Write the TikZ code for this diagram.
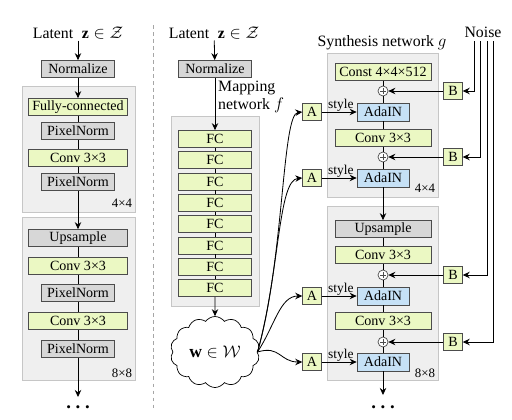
\documentclass[tikz,border=0pt]{standalone}
\usepackage{fontspec}
\setmainfont{Liberation Serif}
\usetikzlibrary{shapes.symbols,arrows.meta}

\definecolor{fcgreen}{HTML}{EBF8C3}
\definecolor{adablue}{HTML}{C6E1F6}
\definecolor{opgray}{HTML}{D7D7D7}
\definecolor{blockgray}{HTML}{EFEFEF}
\definecolor{blockline}{HTML}{C6C6C6}

\tikzset{
  every node/.style={font=\fontsize{12}{14}\selectfont},
  opbox/.style={draw=black!70, line width=0.6pt, inner sep=0pt, minimum height=0.51cm},
  normbox/.style={opbox, fill=opgray, minimum width=2.19cm},
  fcbox/.style={opbox, fill=fcgreen, minimum width=2.19cm},
  lwide/.style={minimum width=2.97cm},
  rwide/.style={minimum width=2.88cm},
  adabox/.style={opbox, fill=adablue, minimum width=1.56cm, minimum height=0.54cm},
  abbox/.style={opbox, fill=fcgreen, minimum width=0.56cm, minimum height=0.53cm},
  plusnode/.style={circle, draw=black!70, fill=white, line width=0.6pt, inner sep=0pt, minimum size=0.3cm,
    path picture={\draw[line width=0.5pt]
      ([xshift=-2.4pt]path picture bounding box.center) -- ([xshift=2.4pt]path picture bounding box.center)
      ([yshift=-2.4pt]path picture bounding box.center) -- ([yshift=2.4pt]path picture bounding box.center);}},
  block/.style={fill=blockgray, draw=blockline, line width=0.6pt},
  title/.style={font=\fontsize{13.5}{15}\selectfont, inner sep=1pt},
  sizelbl/.style={font=\fontsize{11}{12}\selectfont, inner sep=0pt},
  stylelbl/.style={font=\fontsize{11.5}{12}\selectfont, inner sep=0.5pt, above, pos=0.55},
  dotsnode/.style={font=\fontsize{16}{16}\bfseries, inner sep=0pt},
  conn/.style={line width=0.7pt},
}

\begin{document}
\begin{tikzpicture}[x=0.03cm, y=-0.03cm, >={Stealth[length=6pt,width=5.5pt,inset=2pt]}]
\useasboundingbox (0,0) rectangle (512,419);

% gray blocks
\draw[block] (22,86) rectangle (135,212);
\draw[block] (22,217) rectangle (135,380);
\draw[block] (171,116) rectangle (259,306);
\draw[block] (327,53) rectangle (438,197);
\draw[block] (327,206) rectangle (438,380);
\draw[gray!70, dashed, line width=0.6pt] (153,25) -- (153,408);

% traditional generator
\node[title] (l-lat) at (78,33) {Latent\hspace{0.3em} $\mathbf{z}\in\mathcal{Z}$};
\node[normbox] (l-norm) at (78,69) {Normalize};
\node[fcbox, lwide] (l-fc) at (78,107) {Fully-connected};
\node[normbox] (l-pn1) at (78,131) {PixelNorm};
\node[fcbox, lwide] (l-conv1) at (78,158) {Conv 3×3};
\node[normbox] (l-pn2) at (78,182) {PixelNorm};
\node[sizelbl] at (122,203) {4×4};
\node[normbox, lwide] (l-up) at (78,238) {Upsample};
\node[fcbox, lwide] (l-conv2) at (78,266) {Conv 3×3};
\node[normbox] (l-pn3) at (78,293) {PixelNorm};
\node[fcbox, lwide] (l-conv3) at (78,321) {Conv 3×3};
\node[normbox] (l-pn4) at (78,349) {PixelNorm};
\node[sizelbl] at (122,373) {8×8};
\coordinate (l-out) at (78,397);
\node[dotsnode] (l-dots) at (78,407) {.\hspace{4pt}.\hspace{4pt}.};

\draw[conn,->] (l-lat) -- (l-norm);
\draw[conn,->] (l-norm) -- (l-fc);
\draw[conn] (l-fc) -- (l-pn1) -- (l-conv1) -- (l-pn2);
\draw[conn,->] (l-pn2) -- (l-up);
\draw[conn] (l-up) -- (l-conv2) -- (l-pn3) -- (l-conv3) -- (l-pn4);
\draw[conn,->] (l-pn4) -- (l-out);

% mapping network
\node[title] (m-lat) at (214,33) {Latent\hspace{0.3em} $\mathbf{z}\in\mathcal{Z}$};
\node[normbox] (m-norm) at (215,69) {Normalize};
\node[title, align=left, anchor=north west, inner sep=0pt] (m-lbl) at (218,81) {Mapping\\network $f$};
\foreach \i in {1,...,8}
  \node[fcbox] (fc\i) at (215,{139+21.3*(\i-1)}) {FC};
\foreach \i [count=\j from 2] in {1,...,7}
  \draw[conn] (fc\i) -- (fc\j);
\node[cloud, draw, line width=0.6pt, cloud puffs=14, cloud puff arc=110, aspect=1.3,
  minimum width=2.68cm, minimum height=2.13cm, inner sep=0pt,
  font=\fontsize{15}{17}\selectfont] (w) at (215,352) {$\mathbf{w}\in\mathcal{W}$};

\draw[conn,->] (m-lat) -- (m-norm);
\draw[conn,->] (m-norm) -- (fc1);
\draw[conn,->] (fc8) -- (w);

% synthesis network
\node[title] (s-lbl) at (382,43) {Synthesis network $g$};
\node[fcbox, rwide] (const) at (383,72) {Const 4×4×512};
\node[plusnode] (p1) at (383,91) {};
\node[adabox] (ada1) at (383,112) {AdaIN};
\node[fcbox, rwide] (s-conv1) at (383,138) {Conv 3×3};
\node[plusnode] (p2) at (383,157) {};
\node[adabox] (ada2) at (383,178) {AdaIN};
\node[sizelbl] at (425,188) {4×4};
\node[normbox, rwide] (s-up) at (383,229) {Upsample};
\node[fcbox, rwide] (s-conv2) at (383,255) {Conv 3×3};
\node[plusnode] (p3) at (383,275) {};
\node[adabox] (ada3) at (383,296) {AdaIN};
\node[fcbox, rwide] (s-conv3) at (383,321) {Conv 3×3};
\node[plusnode] (p4) at (383,342) {};
\node[adabox] (ada4) at (383,362) {AdaIN};
\node[sizelbl] at (425,373) {8×8};
\coordinate (s-out) at (383,395);
\node[dotsnode] (s-dots) at (383,407) {.\hspace{4pt}.\hspace{4pt}.};

\draw[conn] (const) -- (p1) -- (ada1) -- (s-conv1) -- (p2) -- (ada2);
\draw[conn,->] (ada2) -- (s-up);
\draw[conn] (s-up) -- (s-conv2) -- (p3) -- (ada3) -- (s-conv3) -- (p4) -- (ada4);
\draw[conn,->] (ada4) -- (s-out);

% styles and noise
\node[title] (noise) at (483,32) {Noise};
\foreach \i/\y in {1/112,2/178,3/296,4/362}
  \node[abbox] (a\i) at (312,\y) {A};
\foreach \i/\y/\x in {1/91/474,2/157/480,3/275/487,4/342/493} {
  \node[abbox] (b\i) at (453,\y) {B};
  \coordinate (n\i) at (\x,41);
}
\foreach \i in {1,...,4} {
  \draw[conn,->] (a\i) -- node[stylelbl] {style} (ada\i);
  \draw[conn,->] (b\i) -- (p\i);
  \draw[conn,->] (n\i) |- (b\i);
}

\draw[conn,->] (w.east) .. controls (284,260) and (282,114) .. (a1.west);
\draw[conn,->] (w.east) .. controls (280,270) and (278,180) .. (a2.west);
\draw[conn,->] (w.east) .. controls (275,325) and (280,296) .. (a3.west);
\draw[conn,->] (w.east) .. controls (280,345) and (280,362) .. (a4.west);
\end{tikzpicture}
\end{document}
